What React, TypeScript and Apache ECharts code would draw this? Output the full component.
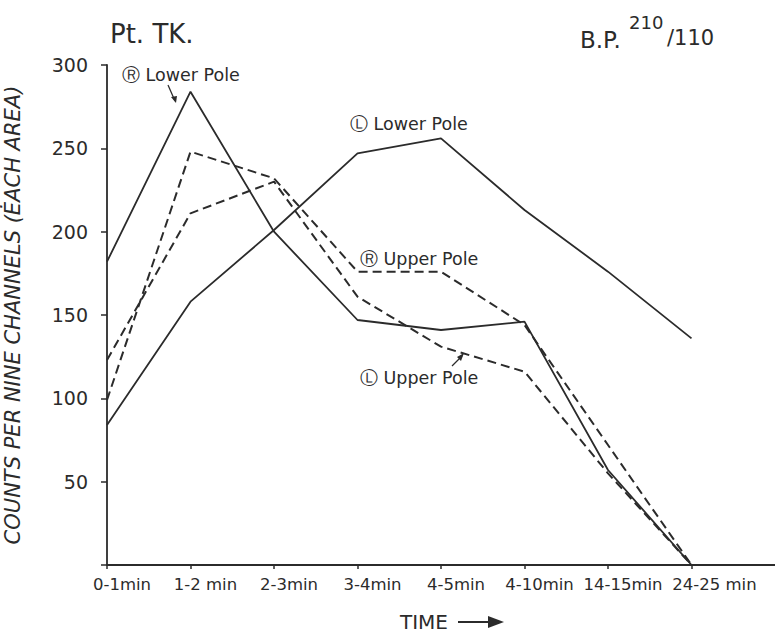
import React, { useEffect, useRef } from "react";
import * as echarts from "echarts";

const categories = ["0-1min", "1-2 min", "2-3min", "3-4min", "4-5min", "4-10min", "14-15min", "24-25 min", ""];
const rightLowerPole = [182, 284, 200, 147, 141, 146, 57, 0];
const leftLowerPole = [84, 158, 201, 247, 256, 213, 176, 136];
const rightUpperPole = [99, 248, 232, 176, 176, 144, 72, 0];
const leftUpperPole = [123, 211, 230, 161, 131, 116, 55, 0];
const yMin = 0;
const yMax = 300;
const yStep = 50;

const INK = "#2b2b2b";
const FONT = "DejaVu Sans";

export default function App() {
  const ref = useRef<HTMLDivElement>(null);
  useEffect(() => {
    if (!ref.current) return;
    const chart = echarts.init(ref.current, null, { renderer: "svg" });
    const lineSolid = { color: INK, width: 1.8, type: "solid" as const };
    const lineDash = { color: INK, width: 2, type: [9, 5] as any };
    const txt = (text: string, x: number, y: number, size: number, extra: any = {}) => ({
      type: "text",
      x,
      y,
      style: { text, fill: INK, font: `${size}px "${FONT}"`, textVerticalAlign: "middle", ...extra },
    });
    const catData = categories.map((c, i) =>
      i === categories.length - 2 ? { value: c, textStyle: { padding: [0, 0, 0, 46] } } : c
    );
    chart.setOption({
      animation: false,
      backgroundColor: "#fff",
      grid: { left: 107, right: 0, top: 65, bottom: 71, containLabel: false, outerBoundsMode: "none" },
      xAxis: {
        type: "category",
        data: catData,
        boundaryGap: false,
        axisLine: { lineStyle: { color: INK, width: 1.8 } },
        axisTick: { length: 4, interval: (i: number) => i < 8, lineStyle: { color: INK, width: 1.5 } },
        axisLabel: {
          color: INK,
          fontSize: 16.5,
          fontFamily: FONT,
          margin: 11,
          interval: 0,
          padding: [0, 0, 0, 30],
        },
        splitLine: { show: false },
      },
      yAxis: {
        type: "value",
        min: yMin,
        max: yMax,
        interval: yStep,
        name: "COUNTS PER NINE CHANNELS (ĖACH AREA)",
        nameLocation: "middle",
        nameRotate: 90,
        nameGap: 84,
        nameTextStyle: { color: INK, fontSize: 21, fontFamily: FONT, fontStyle: "italic" },
        axisLine: { show: true, lineStyle: { color: INK, width: 1.8 } },
        axisTick: { show: true, length: 6, lineStyle: { color: INK, width: 1.5 } },
        axisLabel: {
          color: INK,
          fontSize: 19,
          fontFamily: FONT,
          margin: 19,
          formatter: (v: number) => (v === 0 ? "" : String(v)),
        },
        splitLine: { show: false },
      },
      series: [
        { type: "line", name: "R Lower Pole", data: rightLowerPole, showSymbol: false, lineStyle: lineSolid, z: 3 },
        { type: "line", name: "L Lower Pole", data: leftLowerPole, showSymbol: false, lineStyle: lineSolid, z: 3 },
        { type: "line", name: "R Upper Pole", data: rightUpperPole, showSymbol: false, lineStyle: lineDash, z: 2 },
        { type: "line", name: "L Upper Pole", data: leftUpperPole, showSymbol: false, lineStyle: lineDash, z: 2 },
      ],
      graphic: [
        txt("Pt. TK.", 110, 34, 26),
        txt("B.P.", 580, 40, 23),
        txt("210", 629, 22, 18),
        txt("/110", 667, 38, 21),
        txt("Ⓡ Lower Pole", 122, 75, 17.5),
        txt("Ⓛ Lower Pole", 350, 124, 17.5),
        txt("Ⓡ Upper Pole", 360, 259, 17.5),
        txt("Ⓛ Upper Pole", 360, 378, 17.5),
        txt("TIME", 400, 622, 20),
        { type: "line", shape: { x1: 168, y1: 85, x2: 175, y2: 101 }, style: { stroke: INK, lineWidth: 1.2 } },
        { type: "polygon", shape: { points: [[171, 97], [177, 96], [176, 103]] }, style: { fill: INK } },
        { type: "line", shape: { x1: 452, y1: 366, x2: 462, y2: 356 }, style: { stroke: INK, lineWidth: 1.2 } },
        { type: "polygon", shape: { points: [[457, 357], [461, 361], [464, 353]] }, style: { fill: INK } },
        { type: "line", shape: { x1: 458, y1: 622, x2: 492, y2: 622 }, style: { stroke: INK, lineWidth: 2.2 } },
        { type: "polygon", shape: { points: [[488, 616], [504, 622], [488, 628]] }, style: { fill: INK } },
      ],
    });
    return () => chart.dispose();
  }, []);
  return (
    <div
      ref={ref}
      style={{ position: "absolute", left: 0, top: 0, width: 775, height: 636, background: "#fff" }}
    />
  );
}
